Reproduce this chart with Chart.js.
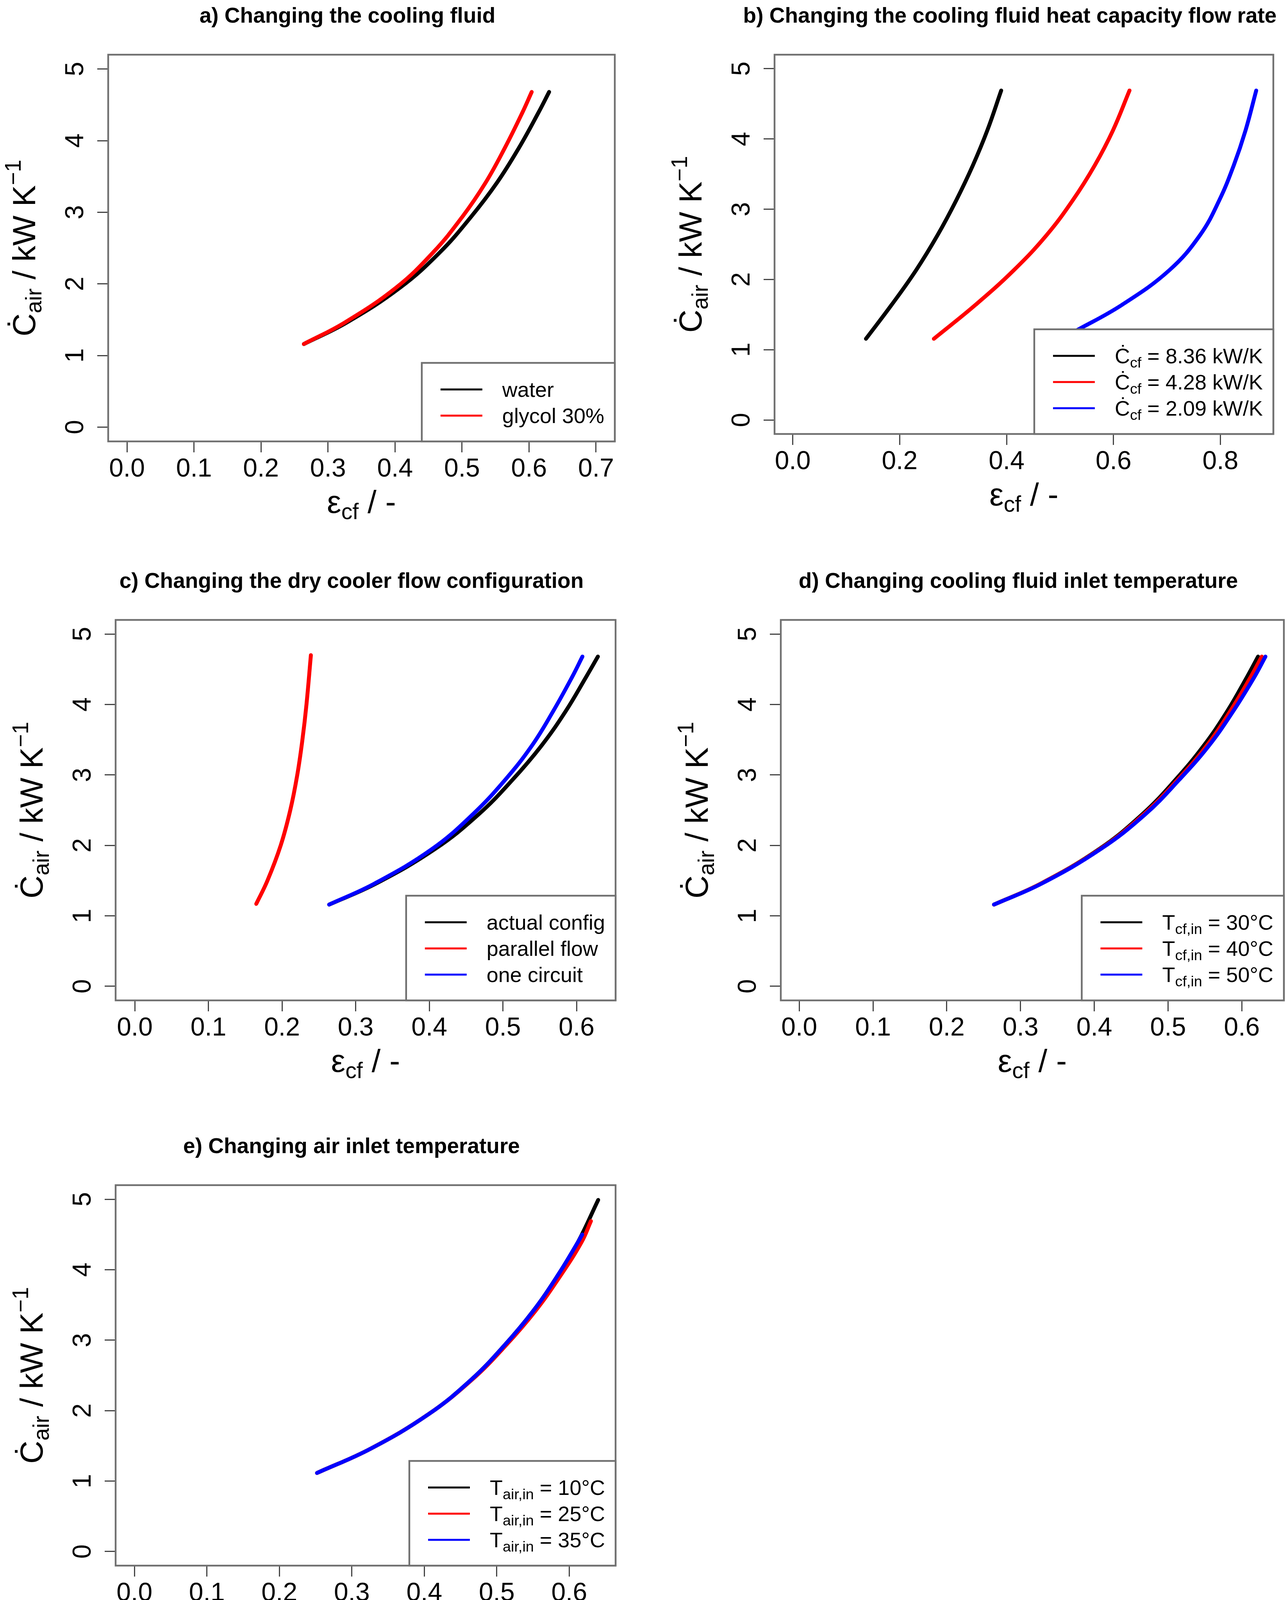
<!DOCTYPE html>
<html>
<head>
<meta charset="utf-8">
<title>Dry cooler effectiveness</title>
<script src="https://cdn.jsdelivr.net/npm/chart.js@4.4.1/dist/chart.umd.min.js"></script>
<style>
  html, body { margin: 0; padding: 0; background: #fff; }
  #page { position: relative; width: 3295px; height: 4217px; background: #fff; overflow: hidden; }
  canvas { position: absolute; }
</style>
</head>
<body>
<div id="page">
  <canvas id="pa" width="1647" height="1440" style="left:0px;top:0px;width:1647px;height:1440px"></canvas>
  <canvas id="pb" width="1648" height="1440" style="left:1647px;top:0px;width:1648px;height:1440px"></canvas>
  <canvas id="pc" width="1647" height="1440" style="left:0px;top:1440px;width:1647px;height:1440px"></canvas>
  <canvas id="pd" width="1648" height="1440" style="left:1647px;top:1440px;width:1648px;height:1440px"></canvas>
  <canvas id="pe" width="1647" height="1337" style="left:0px;top:2880px;width:1647px;height:1337px"></canvas>
</div>
<script>
// shared y axis
const yLim = [-0.2, 5.2];
const yTicks = [0, 1, 2, 3, 4, 5];
const colors = ['#000000', '#ff0000', '#0000ff'];

// a) cooling fluid
const aTitle = 'a) Changing the cooling fluid';
const aLim = [-0.028, 0.728];
const aTicks = [0, 0.1, 0.2, 0.3, 0.4, 0.5, 0.6, 0.7];
const aY = [1.16, 1.46, 1.95, 2.44, 2.93, 3.41, 3.90, 4.39, 4.68];
const aWater = [0.264, 0.328, 0.408, 0.467, 0.513, 0.552, 0.585, 0.614, 0.630];
const aGlycol = [0.264, 0.325, 0.402, 0.457, 0.500, 0.535, 0.564, 0.590, 0.604];
const aLabels = [['water'], ['glycol 30%']];

// b) heat capacity flow rate
const bTitle = 'b) Changing the cooling fluid heat capacity flow rate';
const bLim = [-0.034, 0.899];
const bTicks = [0, 0.2, 0.4, 0.6, 0.8];
const bY = [1.155, 1.639, 2.135, 2.632, 3.129, 3.625, 4.122, 4.69];
const b836 = [0.137, 0.185, 0.231, 0.271, 0.306, 0.337, 0.364, 0.390];
const b428 = [0.264, 0.342, 0.414, 0.475, 0.524, 0.565, 0.599, 0.630];
const b209Y = [1.17, 1.279, 1.639, 2.135, 2.632, 3.129, 3.625, 4.122, 4.69];
const b209 = [0.504, 0.532, 0.616, 0.705, 0.762, 0.798, 0.825, 0.847, 0.867];
const bLabels = [['Ċ', 'cf', ' = 8.36 kW/K'], ['Ċ', 'cf', ' = 4.28 kW/K'], ['Ċ', 'cf', ' = 2.09 kW/K']];

// c) flow configuration
const cTitle = 'c) Changing the dry cooler flow configuration';
const cLim = [-0.026, 0.653];
const cTicks = [0, 0.1, 0.2, 0.3, 0.4, 0.5, 0.6];
const cY = [1.16, 1.46, 1.95, 2.44, 2.93, 3.41, 3.90, 4.39, 4.68];
const cActual = [0.264, 0.328, 0.408, 0.467, 0.513, 0.552, 0.585, 0.613, 0.629];
const cCircuit = [0.264, 0.326, 0.404, 0.459, 0.503, 0.539, 0.568, 0.594, 0.608];
const cParY = [1.17, 1.5, 2, 2.5, 3, 3.5, 4, 4.7];
const cParallel = [0.165, 0.1802, 0.1982, 0.2112, 0.2207, 0.2277, 0.2332, 0.2392];
const cLabels = [['actual config'], ['parallel flow'], ['one circuit']];

// d) cooling fluid inlet temperature
const dTitle = 'd) Changing cooling fluid inlet temperature';
const dLim = [-0.025, 0.657];
const dTicks = [0, 0.1, 0.2, 0.3, 0.4, 0.5, 0.6];
const dY = [1.16, 1.46, 1.95, 2.44, 2.93, 3.41, 3.90, 4.39, 4.68];
const d30 = [0.264, 0.328, 0.407, 0.465, 0.510, 0.548, 0.580, 0.607, 0.622];
const d40 = [0.264, 0.328, 0.408, 0.467, 0.513, 0.552, 0.584, 0.612, 0.627];
const d50 = [0.264, 0.329, 0.409, 0.469, 0.515, 0.555, 0.588, 0.617, 0.632];
const dLabels = [['T', 'cf,in', ' = 30°C'], ['T', 'cf,in', ' = 40°C'], ['T', 'cf,in', ' = 50°C']];

// e) air inlet temperature
const eTitle = 'e) Changing air inlet temperature';
const eLim = [-0.026, 0.664];
const eTicks = [0, 0.1, 0.2, 0.3, 0.4, 0.5, 0.6];
const e10Y = [1.115, 1.46, 1.95, 2.44, 2.93, 3.41, 3.90, 4.39, 4.99];
const e10 = [0.252, 0.326, 0.406, 0.465, 0.511, 0.550, 0.583, 0.612, 0.640];
const e25Y = [1.115, 1.46, 1.95, 2.44, 2.93, 3.41, 3.90, 4.39, 4.69];
const e25 = [0.252, 0.326, 0.406, 0.466, 0.513, 0.553, 0.587, 0.617, 0.630];
const e35Y = [1.115, 1.46, 1.95, 2.44, 2.93, 3.41, 3.90, 4.39, 4.50];
const e35 = [0.252, 0.326, 0.406, 0.465, 0.511, 0.550, 0.583, 0.612, 0.618];
const eLabels = [['T', 'air,in', ' = 10°C'], ['T', 'air,in', ' = 25°C'], ['T', 'air,in', ' = 35°C']];

const FAM = '"Liberation Sans", Arial, Helvetica, sans-serif';
const BOX = '#707070';
const Y_W = 150, X_H = 150;

Chart.defaults.font.family = FAM;
Chart.defaults.color = '#000';

// parts: [text, kind] kind 0 normal, 1 subscript, 2 superscript
function partsWidth(ctx, parts, fs) {
  let w = 0;
  parts.forEach(([t, k]) => {
    ctx.font = (k ? fs * 0.7 : fs) + 'px ' + FAM;
    w += ctx.measureText(t).width;
  });
  return w;
}
function drawParts(ctx, parts, x, y, fs, align) {
  let cx = align === 'center' ? x - partsWidth(ctx, parts, fs) / 2 : x;
  ctx.textBaseline = 'alphabetic';
  ctx.textAlign = 'left';
  parts.forEach(([t, k]) => {
    ctx.font = (k ? fs * 0.7 : fs) + 'px ' + FAM;
    const dy = k === 1 ? 0.2 * fs : (k === 2 ? -0.45 * fs : 0);
    ctx.fillText(t, cx, y + dy);
    cx += ctx.measureText(t).width;
  });
}
const legendParts = l => l.map((t, i) => [t, i === 1 ? 1 : 0]);

const yTitle = [['Ċ', 0], ['air', 1], [' / kW K', 0], ['−1', 2]];
const xTitle = [['ε', 0], ['cf', 1], [' / -', 0]];

function decor(p) {
  return {
    id: 'decor',
    beforeDatasetsDraw(chart) {
      const {ctx, chartArea: a} = chart;
      ctx.save();
      ctx.strokeStyle = BOX;
      ctx.lineWidth = 4.5;
      ctx.strokeRect(a.left, a.top, a.right - a.left, a.bottom - a.top);
      ctx.restore();
    },
    afterDatasetsDraw(chart) {
      const {ctx, chartArea: a} = chart;
      const ds = chart.data.datasets;
      const fs = 54;
      ctx.save();
      let maxW = 0;
      p.labels.forEach(l => { maxW = Math.max(maxW, partsWidth(ctx, legendParts(l), fs)); });
      const w = 206 + maxW + 27;
      const h = 68 + (ds.length - 1) * 67 + 66;
      const x0 = a.right - w, y0 = a.bottom - h;
      ctx.fillStyle = '#fff';
      ctx.fillRect(x0, y0, w, h);
      ctx.strokeStyle = BOX;
      ctx.lineWidth = 4.5;
      ctx.strokeRect(x0, y0, w, h);
      ds.forEach((d, i) => {
        const yy = y0 + 68 + i * 67;
        ctx.strokeStyle = d.borderColor;
        ctx.lineWidth = 5;
        ctx.beginPath();
        ctx.moveTo(x0 + 48, yy);
        ctx.lineTo(x0 + 155, yy);
        ctx.stroke();
        ctx.fillStyle = '#000';
        drawParts(ctx, legendParts(p.labels[i]), x0 + 206, yy + 0.36 * fs, fs, 'left');
      });
      ctx.restore();
    },
    afterDraw(chart) {
      const {ctx, chartArea: a} = chart;
      const cx = (a.left + a.right) / 2, cy = (a.top + a.bottom) / 2;
      ctx.save();
      ctx.fillStyle = '#000';
      ctx.font = 'bold 55px ' + FAM;
      ctx.textAlign = 'center';
      ctx.textBaseline = 'alphabetic';
      ctx.fillText(p.title, cx - 36, a.top - 102 + 20);
      drawParts(ctx, xTitle, cx, a.bottom + 183, 82, 'center');
      ctx.translate(a.left - 187, cy);
      ctx.rotate(-Math.PI / 2);
      drawParts(ctx, yTitle, 0, 0, 82, 'center');
      ctx.restore();
    }
  };
}

function panel(id, p) {
  const canvas = document.getElementById(id);
  const n = p.series.length;
  const datasets = p.series.map((s, i) => ({
    label: p.labels[i].join(''),
    data: s.x.map((v, j) => ({x: v, y: s.y[j]})),
    borderColor: colors[i],
    backgroundColor: colors[i],
    borderWidth: 10,
    borderCapStyle: 'round',
    borderJoinStyle: 'round',
    pointRadius: 0,
    tension: 0.4,
    fill: false,
    order: n - i
  }));
  const tickFont = {family: FAM, size: 66};
  return new Chart(canvas, {
    type: 'line',
    data: {datasets},
    options: {
      responsive: false,
      animation: false,
      devicePixelRatio: 1,
      layout: {
        padding: {
          left: p.box.L - Y_W,
          top: p.box.T,
          right: canvas.width - p.box.R,
          bottom: canvas.height - p.box.B - X_H
        }
      },
      plugins: {legend: {display: false}, title: {display: false}, tooltip: {enabled: false}},
      scales: {
        x: {
          type: 'linear',
          min: p.xLim[0],
          max: p.xLim[1],
          afterBuildTicks: s => { s.ticks = p.xTicks.map(v => ({value: v})); },
          afterFit: s => { s.height = X_H; },
          border: {display: false},
          grid: {display: true, drawOnChartArea: false, drawTicks: true, tickLength: 28, tickWidth: 3, tickColor: '#444'},
          ticks: {font: tickFont, color: '#000', padding: 4, autoSkip: false, maxRotation: 0, callback: v => v.toFixed(1)}
        },
        y: {
          type: 'linear',
          min: yLim[0],
          max: yLim[1],
          afterBuildTicks: s => { s.ticks = yTicks.map(v => ({value: v})); },
          afterFit: s => { s.width = Y_W; },
          border: {display: false},
          grid: {display: true, drawOnChartArea: false, drawTicks: true, tickLength: 28, tickWidth: 3, tickColor: '#444'},
          ticks: {font: tickFont, color: '#000', padding: 36, autoSkip: false, minRotation: 90, maxRotation: 90, crossAlign: 'center', callback: v => String(v)}
        }
      }
    },
    plugins: [decor(p)]
  });
}

panel('pa', {
  title: aTitle, xLim: aLim, xTicks: aTicks, labels: aLabels,
  box: {L: 277, T: 140, R: 1574, B: 1130},
  series: [{x: aWater, y: aY}, {x: aGlycol, y: aY}]
});
panel('pb', {
  title: bTitle, xLim: bLim, xTicks: bTicks, labels: bLabels,
  box: {L: 336, T: 140, R: 1613, B: 1111},
  series: [{x: b836, y: bY}, {x: b428, y: bY}, {x: b209, y: b209Y}]
});
panel('pc', {
  title: cTitle, xLim: cLim, xTicks: cTicks, labels: cLabels,
  box: {L: 296, T: 147, R: 1576, B: 1121},
  series: [{x: cActual, y: cY}, {x: cParallel, y: cParY}, {x: cCircuit, y: cY}]
});
panel('pd', {
  title: dTitle, xLim: dLim, xTicks: dTicks, labels: dLabels,
  box: {L: 352, T: 147, R: 1640, B: 1121},
  series: [{x: d30, y: dY}, {x: d40, y: dY}, {x: d50, y: dY}]
});
panel('pe', {
  title: eTitle, xLim: eLim, xTicks: eTicks, labels: eLabels,
  box: {L: 296, T: 154, R: 1576, B: 1128},
  series: [{x: e10, y: e10Y}, {x: e25, y: e25Y}, {x: e35, y: e35Y}]
});
</script>
</body>
</html>
